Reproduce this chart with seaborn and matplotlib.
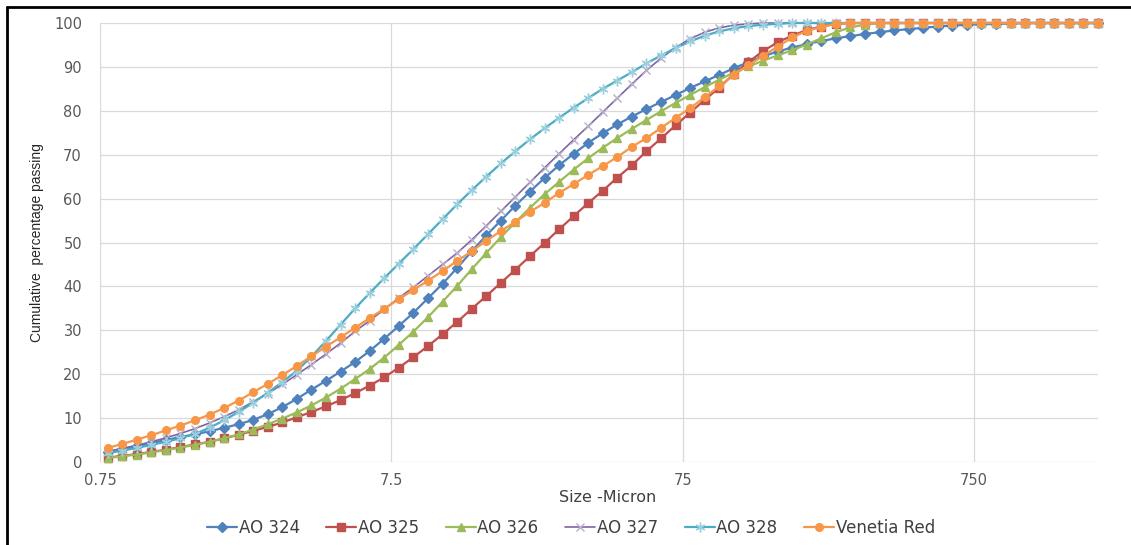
import matplotlib
matplotlib.use("Agg")
import matplotlib.pyplot as plt
from matplotlib.lines import Line2D
from matplotlib.ticker import NullLocator, FixedLocator, FixedFormatter
import seaborn as sns

# === Données (classes granulométriques, µm) ===
sizes = [0.796, 0.893, 1.002, 1.125, 1.262, 1.416, 1.589, 1.783, 2.000, 2.244,
         2.518, 2.825, 3.170, 3.557, 3.991, 4.477, 5.024, 5.637, 6.325, 7.096,
         7.962, 8.934, 10.024, 11.247, 12.619, 14.159, 15.887, 17.825, 20.000, 22.440,
         25.179, 28.251, 31.698, 35.566, 39.905, 44.774, 50.238, 56.368, 63.246, 70.963,
         79.621, 89.337, 100.237, 112.468, 126.191, 141.589, 158.866, 178.250, 200.000, 224.404,
         251.785, 282.508, 316.979, 355.656, 399.052, 447.744, 502.377, 563.677, 632.456, 709.627,
         796.214, 893.367, 1002.374, 1124.683, 1261.915, 1415.892, 1588.656, 1782.502, 2000.000]

ao_324 = [2.2, 2.9, 3.6, 4.3, 5.0, 5.7, 6.3, 7.0, 7.8, 8.6,
          9.6, 10.9, 12.5, 14.4, 16.5, 18.5, 20.6, 22.8, 25.3, 28.1,
          31.0, 34.0, 37.3, 40.6, 44.2, 48.0, 51.6, 55.0, 58.4, 61.6,
          64.7, 67.6, 70.2, 72.7, 74.9, 76.9, 78.7, 80.4, 82.0, 83.6,
          85.2, 86.7, 88.2, 89.7, 91.1, 92.4, 93.5, 94.4, 95.2, 95.9,
          96.5, 97.0, 97.5, 97.9, 98.3, 98.6, 98.9, 99.2, 99.4, 99.6,
          99.7, 99.8, 99.9, 100, 100, 100, 100, 100, 100]

ao_325 = [1.0, 1.4, 1.8, 2.3, 2.8, 3.4, 4.0, 4.6, 5.4, 6.2,
          7.1, 8.0, 9.0, 10.2, 11.4, 12.7, 14.1, 15.7, 17.4, 19.3,
          21.5, 23.9, 26.4, 29.1, 31.9, 34.9, 37.8, 40.8, 43.8, 46.9,
          49.9, 53.0, 56.0, 59.0, 61.8, 64.8, 67.6, 70.8, 73.7, 76.7,
          79.6, 82.5, 85.3, 88.4, 91.1, 93.6, 95.6, 97.1, 98.4, 99.2,
          99.8, 100, 100, 100, 100, 100, 100, 100, 100, 100,
          100, 100, 100, 100, 100, 100, 100, 100, 100]

ao_326 = [0.9, 1.3, 1.7, 2.2, 2.7, 3.3, 3.9, 4.6, 5.4, 6.3,
          7.4, 8.6, 9.9, 11.3, 12.9, 14.7, 16.7, 18.9, 21.2, 23.8,
          26.7, 29.7, 33.0, 36.5, 40.1, 43.9, 47.6, 51.2, 54.6, 57.9,
          61.0, 63.8, 66.6, 69.2, 71.6, 73.8, 75.9, 77.9, 79.9, 81.8,
          83.6, 85.4, 87.1, 88.7, 90.1, 91.4, 92.6, 93.8, 95.1, 96.5,
          97.9, 99.0, 99.6, 100, 100, 100, 100, 100, 100, 100,
          100, 100, 100, 100, 100, 100, 100, 100, 100]

ao_327 = [2.4, 3.1, 3.8, 4.6, 5.5, 6.5, 7.6, 8.9, 10.3, 11.9,
          13.7, 15.6, 17.7, 19.9, 22.2, 24.6, 27.1, 29.8, 32.2, 34.8,
          37.4, 39.8, 42.4, 45.0, 47.6, 50.6, 53.8, 57.1, 60.4, 63.7,
          67.0, 70.2, 73.4, 76.5, 79.7, 82.9, 86.1, 89.2, 92.0, 94.4,
          96.4, 97.9, 98.9, 99.5, 99.8, 100, 100, 100, 100, 100,
          100, 100, 100, 100, 100, 100, 100, 100, 100, 100,
          100, 100, 100, 100, 100, 100, 100, 100, 100]

ao_328 = [2.0, 2.6, 3.2, 3.9, 4.6, 5.4, 6.4, 7.8, 9.5, 11.4,
          13.5, 15.8, 18.2, 20.8, 24.0, 27.6, 31.3, 35.0, 38.5, 41.9,
          45.2, 48.5, 51.9, 55.3, 58.7, 61.9, 65.0, 68.0, 70.8, 73.5,
          76.0, 78.4, 80.7, 82.9, 85.0, 86.9, 88.8, 90.8, 92.6, 94.3,
          95.8, 97.1, 98.1, 98.8, 99.3, 99.6, 99.8, 100, 100, 100,
          100, 100, 100, 100, 100, 100, 100, 100, 100, 100,
          100, 100, 100, 100, 100, 100, 100, 100, 100]

venetia_red = [3.2, 4.1, 5.1, 6.1, 7.2, 8.3, 9.5, 10.8, 12.3, 14.0,
               15.9, 17.8, 19.8, 21.9, 24.1, 26.3, 28.4, 30.6, 32.8, 34.9,
               37.1, 39.2, 41.3, 43.5, 45.8, 48.0, 50.4, 52.6, 54.7, 57.0,
               59.0, 61.3, 63.3, 65.4, 67.4, 69.5, 71.8, 73.8, 76.1, 78.4,
               80.6, 83.1, 85.6, 88.2, 90.4, 92.5, 94.6, 96.7, 98.2, 99.1,
               99.8, 100, 100, 100, 100, 100, 100, 100, 100, 100,
               100, 100, 100, 100, 100, 100, 100, 100, 100]

x_ticks = [0.75, 7.5, 75, 750]
x_tick_labels = ["0.75", "7.5", "75", "750"]
y_ticks = list(range(0, 101, 10))

# === Styles (nom, valeurs, couleur, marqueur, taille, face, bord, épaisseur) ===
series = [
    ("AO 324", ao_324, "#4F81BD", "D", 5.0, "#4F81BD", "#4F81BD", 1.6),
    ("AO 325", ao_325, "#C0504D", "s", 5.5, "#C0504D", "#C0504D", 1.6),
    ("AO 326", ao_326, "#9BBB59", "^", 6.0, "#9BBB59", "#9BBB59", 1.6),
    ("AO 327", ao_327, "#8064A2", "x", 6.0, "none", "#B9AFCB", 1.2),
    ("AO 328", ao_328, "#4BACC6", (6, 2, 0), 7.0, "none", "#9ACFDD", 1.6),
    ("Venetia Red", venetia_red, "#F79646", "o", 5.5, "#F79646", "#F79646", 1.6),
]

sns.set_theme(style="whitegrid")
plt.rcParams["font.family"] = ["DejaVu Sans"]

fig = plt.figure(figsize=(11.31, 5.45), dpi=100)
ax = fig.add_axes([100 / 1131, 1 - 462 / 545, 998 / 1131, 439 / 545])

for i, (name, vals, color, marker, ms, fc, ec, lw) in enumerate(series):
    sns.lineplot(x=sizes, y=vals, ax=ax, color=color, marker=marker, markersize=ms,
                 markerfacecolor=fc, markeredgecolor=ec, markeredgewidth=1.0,
                 linewidth=lw, label=name, clip_on=False, zorder=3 + i)

ax.set_xscale("log")
ax.set_xlim(0.75, 2000)
ax.set_ylim(0, 100)
ax.xaxis.set_major_locator(FixedLocator(x_ticks))
ax.xaxis.set_major_formatter(FixedFormatter(x_tick_labels))
ax.xaxis.set_minor_locator(NullLocator())
ax.set_yticks(y_ticks)

ax.grid(True, color="#D9D9D9", linewidth=0.9)
for s in ax.spines.values():
    s.set_visible(False)
ax.tick_params(axis="both", length=0, labelsize=10.5, labelcolor="#595959")
ax.tick_params(axis="x", pad=8)
ax.tick_params(axis="y", pad=13)
ax.set_xlabel("")
ax.set_ylabel("")

fig.text(608 / 1131, 1 - 497 / 545, "Size -Micron", ha="center", va="center",
         fontsize=11.5, color="#404040")
fig.text(37 / 1131, 1 - 243 / 545, "Cumulative  percentage passing", ha="center", va="center",
         rotation=90, fontsize=10, color="#262626",
         family=["Liberation Sans Narrow", "Liberation Sans"])

handles, labels = ax.get_legend_handles_labels()
ax.legend(handles, labels, loc="center", bbox_to_anchor=(571 / 1131, 1 - 528 / 545),
          bbox_transform=fig.transFigure, ncol=6, frameon=False, fontsize=12,
          handlelength=1.8, handletextpad=0.1, columnspacing=1.6, labelcolor="#404040")

# cadre noir autour de l'image
fig.add_artist(Line2D([7 / 1131, 7 / 1131], [0, 1 - 7 / 545], transform=fig.transFigure,
                      color="black", linewidth=2))
fig.add_artist(Line2D([7 / 1131, 1], [1 - 7 / 545, 1 - 7 / 545], transform=fig.transFigure,
                      color="black", linewidth=2))

fig.savefig("out.png", dpi=100)
plt.close(fig)
